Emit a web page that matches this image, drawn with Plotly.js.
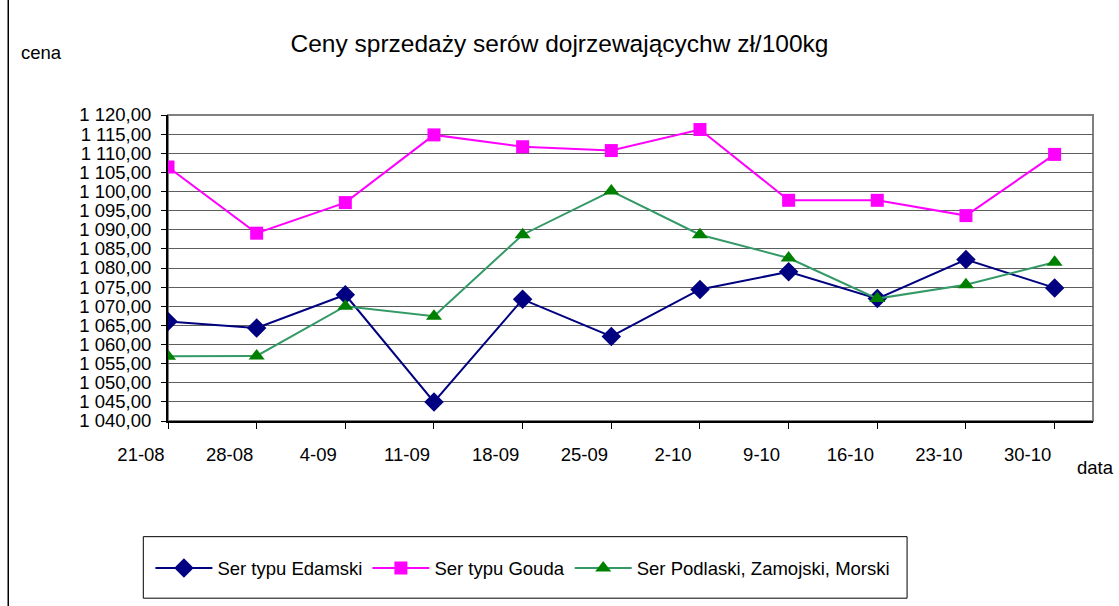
<!DOCTYPE html>
<html>
<head>
<meta charset="utf-8">
<script src="https://cdn.plot.ly/plotly-3.0.1.min.js"></script>
<style>
  html, body { margin: 0; padding: 0; background: #fff; }
  #chart { width: 1119px; height: 606px; }
</style>
</head>
<body>
<div id="chart"></div>
<script>
// weeks (dd-mm)
const dates = ['21-08', '28-08', '4-09', '11-09', '18-09', '25-09', '2-10', '9-10', '16-10', '23-10', '30-10'];

// prices in zł/100kg
const edamski = [1066.0, 1064.3, 1073.0, 1045.0, 1071.8, 1062.1, 1074.4, 1079.0, 1072.0, 1082.2, 1074.8];
const gouda = [1106.4, 1089.1, 1097.1, 1114.8, 1111.7, 1110.7, 1116.2, 1097.7, 1097.7, 1093.7, 1109.7];
const podlaski = [1056.9, 1057.0, 1070.0, 1067.4, 1088.7, 1100.1, 1088.7, 1082.6, 1072.0, 1075.6, 1081.5];

const seriesNames = ['Ser typu Edamski', 'Ser typu Gouda', 'Ser Podlaski, Zamojski, Morski'];

const FONT = 'Liberation Sans, Arial, sans-serif';
const FS = 18.5;
const idx = dates.map((d, i) => i);

function line(y, name, lineColor, markerColor, symbol, size) {
    return {
        x: idx,
        y: y,
        name: name,
        type: 'scatter',
        mode: 'lines+markers',
        line: { color: lineColor, width: 2 },
        marker: { color: markerColor, symbol: symbol, size: size }
    };
}

const traces = [
    line(edamski, seriesNames[0], '#000080', '#000080', 'diamond', 15),
    line(gouda, seriesNames[1], '#ff00ff', '#ff00ff', 'square', 13),
    line(podlaski, seriesNames[2], '#339966', '#008000', 'triangle-up', 14)
];

const layout = {
    width: 1119,
    height: 606,
    margin: { l: 168, r: 26, t: 115, b: 185 },
    paper_bgcolor: '#fff',
    plot_bgcolor: '#fff',
    separators: ', ',
    font: { family: FONT, size: FS, color: '#000' },
    showlegend: true,
    title: {
        text: 'Ceny sprzedaży serów dojrzewającychw zł/100kg',
        font: { family: FONT, size: 24.5, color: '#000' },
        x: 0.5, xref: 'container', xanchor: 'center',
        y: 1 - 43 / 606, yref: 'container', yanchor: 'middle'
    },
    xaxis: {
        range: [0, 10.433],
        tickvals: idx,
        ticktext: dates,
        // labels in the original sit to the left of their tick marks
        ticklabelshift: -27,
        ticklabelstandoff: 10,
        ticks: 'outside', ticklen: 6, tickcolor: '#000', tickwidth: 1,
        showgrid: false, zeroline: false,
        showline: true, linecolor: '#000', linewidth: 2,
        tickfont: { family: FONT, size: FS, color: '#000' }
    },
    yaxis: {
        range: [1040, 1120],
        dtick: 5, tick0: 1040,
        tickformat: ',.2f',
        ticks: 'outside', ticklen: 5, tickcolor: '#000',
        ticklabelstandoff: 6,
        showgrid: true, gridcolor: '#5e5e5e', gridwidth: 1,
        zeroline: false,
        showline: true, linecolor: '#000', linewidth: 2,
        tickfont: { family: FONT, size: FS, color: '#000' }
    },
    legend: {
        orientation: 'h',
        x: -0.019, xanchor: 'left',
        y: -0.42, yanchor: 'top',
        itemwidth: 57,
        font: { family: FONT, size: FS, color: '#000' },
        bgcolor: 'rgba(0,0,0,0)',
        borderwidth: 0
    },
    shapes: [
        // plot frame (top/right in grey)
        { type: 'rect', xref: 'paper', yref: 'paper', x0: 0, x1: 1, y0: 0, y1: 1,
          line: { color: '#808080', width: 2 }, layer: 'below' },
        // legend box
        { type: 'rect', xref: 'paper', yref: 'paper', x0: -0.0267, x1: 0.799, y0: -0.579, y1: -0.378,
          line: { color: '#000', width: 1 } },
        // chart area border on the left
        { type: 'line', xref: 'paper', yref: 'paper', x0: -0.1727, x1: -0.1727, y0: -0.62, y1: 1.4,
          line: { color: '#000', width: 1.5 } }
    ],
    annotations: [
        { text: 'cena', xref: 'paper', yref: 'paper',
          x: (41 - 167.7) / 925, y: (421 - 53) / 305.7,
          xanchor: 'center', yanchor: 'middle', showarrow: false,
          font: { family: FONT, size: FS, color: '#000' } },
        { text: 'data', xref: 'paper', yref: 'paper',
          x: (1095 - 167.7) / 925, y: (421 - 467) / 305.7,
          xanchor: 'center', yanchor: 'middle', showarrow: false,
          font: { family: FONT, size: FS, color: '#000' } }
    ]
};

Plotly.newPlot('chart', traces, layout, { displayModeBar: false, staticPlot: true });
</script>
</body>
</html>
